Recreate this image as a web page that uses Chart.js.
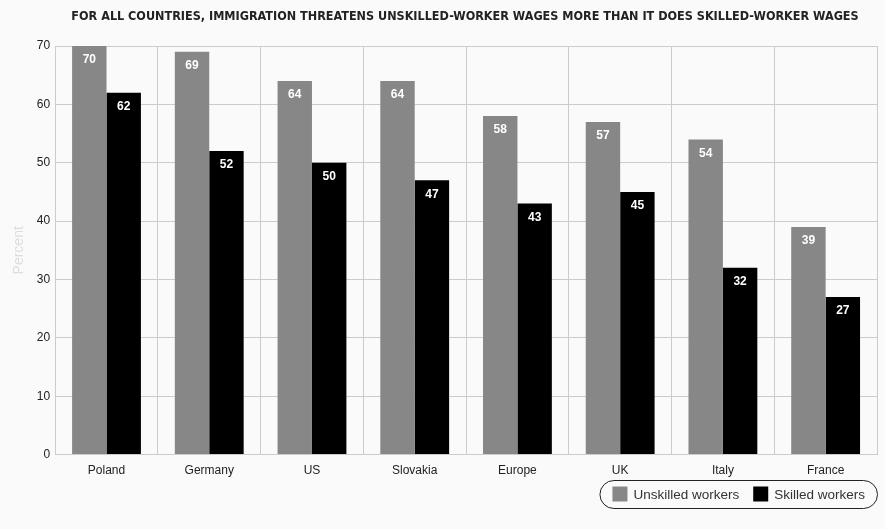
<!DOCTYPE html>
<html>
<head>
<meta charset="utf-8">
<script src="https://cdn.jsdelivr.net/npm/chart.js@4"></script>
<style>
  html, body { margin: 0; padding: 0; background: #fafafa; }
  #wrap { width: 885px; height: 529px; position: relative; }
</style>
</head>
<body>
<div id="wrap"><canvas id="chart"></canvas></div>
<script>
const countries = ['Poland', 'Germany', 'US', 'Slovakia', 'Europe', 'UK', 'Italy', 'France'];
const unskilled = [70, 69, 64, 64, 58, 57, 54, 39];
const skilled = [62, 52, 50, 47, 43, 45, 32, 27];
const yTicks = [0, 10, 20, 30, 40, 50, 60, 70];

const TITLE = 'FOR ALL COUNTRIES, IMMIGRATION THREATENS UNSKILLED-WORKER WAGES MORE THAN IT DOES SKILLED-WORKER WAGES';
const BASE_FONT = '"Liberation Sans", Arial, sans-serif';

// heading, centred a little right of the canvas middle
const heading = {
    id: 'heading',
    afterDraw(chart) {
        const ctx = chart.ctx;
        ctx.save();
        ctx.font = 'bold 12.5px "DejaVu Sans Condensed", "DejaVu Sans", sans-serif';
        ctx.fillStyle = '#222';
        ctx.textAlign = 'center';
        ctx.textBaseline = 'middle';
        ctx.fillText(TITLE, 465, 17);
        ctx.restore();
    }
};

// white value labels just inside the top of each bar
const barValues = {
    id: 'barValues',
    afterDatasetsDraw(chart) {
        const ctx = chart.ctx;
        ctx.save();
        ctx.font = 'bold 12px ' + BASE_FONT;
        ctx.fillStyle = '#ffffff';
        ctx.textAlign = 'center';
        ctx.textBaseline = 'middle';
        chart.data.datasets.forEach((ds, i) => {
            chart.getDatasetMeta(i).data.forEach((bar, j) => {
                ctx.fillText(ds.data[j], bar.x, bar.y + 14);
            });
        });
        ctx.restore();
    }
};

// legend in a rounded pill, right-aligned under the plot
const pillLegend = {
    id: 'pillLegend',
    afterDraw(chart) {
        const ctx = chart.ctx;
        const sets = chart.data.datasets;
        const box = 15, gapText = 6, gapItem = 14, padL = 13, padR = 12;
        const midY = 494, h = 28;
        ctx.save();
        ctx.font = '13.5px ' + BASE_FONT;
        const widths = sets.map(ds => ctx.measureText(ds.label).width);
        let inner = 0;
        widths.forEach((w, i) => { inner += box + gapText + w + (i < widths.length - 1 ? gapItem : 0); });
        const right = chart.chartArea.right;
        const left = right - inner - padL - padR;

        ctx.strokeStyle = '#222';
        ctx.lineWidth = 1;
        ctx.beginPath();
        ctx.roundRect(left + 0.5, midY - h / 2 + 0.5, right - left, h, 14);
        ctx.stroke();

        let x = left + padL;
        ctx.textBaseline = 'middle';
        ctx.textAlign = 'left';
        sets.forEach((ds, i) => {
            ctx.fillStyle = ds.backgroundColor;
            ctx.fillRect(x, midY - box / 2, box, box);
            x += box + gapText;
            ctx.fillStyle = '#333';
            ctx.fillText(ds.label, x, midY + 1);
            x += widths[i] + gapItem;
        });
        ctx.restore();
    }
};

const ctx = document.getElementById('chart').getContext('2d');
const chart = new Chart(ctx, {
    type: 'bar',
    data: {
        labels: countries,
        datasets: [
            {
                label: 'Unskilled workers',
                data: unskilled,
                backgroundColor: '#878787',
                barPercentage: 1.0,
                categoryPercentage: 0.67
            },
            {
                label: 'Skilled workers',
                data: skilled,
                backgroundColor: '#000000',
                barPercentage: 1.0,
                categoryPercentage: 0.67
            }
        ]
    },
    options: {
        responsive: true,
        maintainAspectRatio: false,
        animation: false,
        layout: { padding: { left: 11, right: 8, top: 46, bottom: 42 } },
        plugins: {
            title: { display: false },
            legend: { display: false },
            tooltip: { enabled: false }
        },
        scales: {
            x: {
                grid: { color: '#cccccc', offset: true, drawTicks: false },
                border: { color: '#cccccc' },
                ticks: {
                    color: '#222',
                    padding: 9,
                    font: { family: BASE_FONT, size: 12 }
                }
            },
            y: {
                min: 0,
                max: 70,
                afterBuildTicks(axis) {
                    axis.ticks = yTicks.map(v => ({ value: v }));
                },
                grid: { color: '#cccccc', drawTicks: false },
                border: { color: '#cccccc' },
                ticks: {
                    color: '#222',
                    padding: 5,
                    font: { family: BASE_FONT, size: 12 }
                },
                title: {
                    display: true,
                    text: 'Percent',
                    color: '#dddddd',
                    font: { family: BASE_FONT, size: 14 },
                    padding: { top: 0, bottom: 4 }
                }
            }
        }
    },
    plugins: [heading, barValues, pillLegend]
});
</script>
</body>
</html>
